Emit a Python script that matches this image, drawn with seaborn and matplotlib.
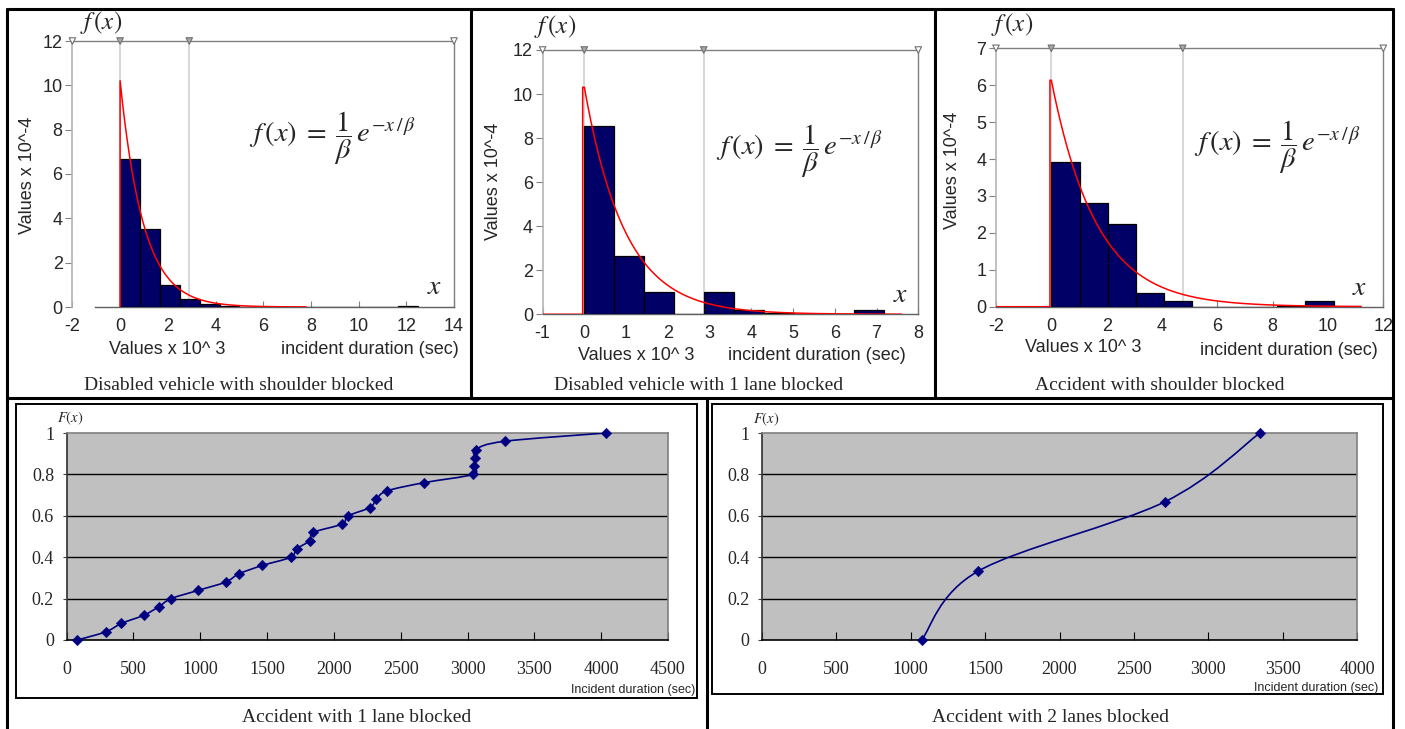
import numpy as np
import matplotlib
matplotlib.use('Agg')
import matplotlib.pyplot as plt
import seaborn as sns
from matplotlib.path import Path
from matplotlib.patches import PathPatch, Rectangle
from matplotlib.lines import Line2D

W, H = 1405, 729

# ---- top row: histograms (values x 10^3 sec, density x 10^-4) ----
p1_title = 'Disabled vehicle with shoulder blocked'
p1_edges = [0, 0.83, 1.67, 2.5, 3.33, 4.17, 5.0, 5.83, 6.67, 7.5, 8.33, 9.17, 10.0, 10.83, 11.67, 12.5]
p1_heights = [6.66, 3.52, 1.0, 0.38, 0.12, 0.05, 0.02, 0, 0, 0, 0, 0, 0, 0, 0.05]
p1_beta = 0.98
p1_marks = [-2, 0, 2.9, 14]
p1_xticks = [-2, 0, 2, 4, 6, 8, 10, 12, 14]
p1_yticks = [0, 2, 4, 6, 8, 10, 12]

p2_title = 'Disabled vehicle with 1 lane blocked'
p2_edges = [0, 0.72, 1.43, 2.15, 2.87, 3.58, 4.3, 5.02, 5.73, 6.45, 7.17]
p2_heights = [8.54, 2.64, 1.03, 0, 1.0, 0.2, 0.05, 0.03, 0, 0.2]
p2_beta = 0.97
p2_marks = [-1, 0, 2.86, 8]
p2_xticks = [-1, 0, 1, 2, 3, 4, 5, 6, 7, 8]
p2_yticks = [0, 2, 4, 6, 8, 10, 12]

p3_title = 'Accident with shoulder blocked'
p3_edges = [0, 1.02, 2.04, 3.06, 4.08, 5.1, 6.12, 7.14, 8.16, 9.18, 10.2]
p3_heights = [3.93, 2.8, 2.23, 0.36, 0.16, 0, 0, 0, 0.02, 0.16]
p3_beta = 1.63
p3_marks = [-2, 0, 4.75, 12]
p3_xticks = [-2, 0, 2, 4, 6, 8, 10, 12]
p3_yticks = [0, 1, 2, 3, 4, 5, 6, 7]

# ---- bottom row: empirical CDFs ----
p4_title = 'Accident with 1 lane blocked'
p4_x = [81, 295, 410, 579, 688, 783, 986, 1190, 1291, 1464, 1677, 1721, 1820, 1847,
        2060, 2108, 2270, 2318, 2396, 2674, 3040, 3046, 3057, 3060, 3277, 4036]
p4_F = [0, 0.04, 0.08, 0.12, 0.16, 0.2, 0.24, 0.28, 0.32, 0.36, 0.4, 0.44, 0.48, 0.52,
        0.56, 0.6, 0.64, 0.68, 0.72, 0.76, 0.8, 0.84, 0.88, 0.92, 0.96, 1.0]

p5_title = 'Accident with 2 lanes blocked'
p5_x = [1073, 1454, 2706, 3347]
p5_F = [0, 0.333, 0.667, 1.0]

sns.set_style('white')
plt.rcParams['font.family'] = ['Liberation Sans', 'DejaVu Sans']
plt.rcParams['mathtext.fontset'] = 'stix'

fig = plt.figure(figsize=(W / 100, H / 100), dpi=100)


def rect_px(x0, y0, x1, y1):
    return [x0 / W, 1 - y1 / H, (x1 - x0) / W, (y1 - y0) / H]


def ftext(x, y, s, **kw):
    fig.text(x / W, 1 - y / H, s, **kw)


def fline(xs, ys, **kw):
    fig.add_artist(Line2D([x / W for x in xs], [1 - y / H for y in ys],
                          transform=fig.transFigure, **kw))


def hist_panel(box, xlim, ylim, xticks, yticks, edges, heights, beta, marks,
               x0, x1, base_from, axis_from):
    ax = fig.add_axes(rect_px(*box))
    centers = [(a + b) / 2 for a, b in zip(edges[:-1], edges[1:])]
    sns.histplot(x=centers, weights=heights, bins=edges, ax=ax, color='#000066',
                 edgecolor='black', linewidth=0.9, alpha=1, zorder=3)
    # fitted exponential f(x) = 1/beta e^(-x/beta)
    xs = np.linspace(max(x0, 0), x1, 400)
    ys = 10 / beta * np.exp(-np.maximum(xs, 0) / beta)
    cx = np.concatenate([[base_from, x0, x0], xs])
    cy = np.concatenate([[0, 0, 10 / beta], ys])
    ax.plot(cx, cy, color='red', lw=1.1, zorder=4)
    ax.vlines([marks[1], marks[2]], 0, ylim[1], color='#d4d4d4', lw=1.3, zorder=1)
    ax.scatter(marks, [ylim[1]] * 4, marker='v', s=22,
               facecolor=['white', '#a8a8a8', '#a8a8a8', 'white'],
               edgecolor='#707070', linewidth=0.8, clip_on=False, zorder=6)
    ax.set_xlim(*xlim)
    ax.set_ylim(*ylim)
    ax.set_xticks(xticks)
    ax.set_yticks(yticks)
    ax.set_xticklabels([str(t) for t in xticks])
    ax.set_yticklabels([str(t) for t in yticks])
    ax.set_xlabel('')
    ax.set_ylabel('')
    for s in ['top', 'right']:
        ax.spines[s].set_color('#808080')
        ax.spines[s].set_linewidth(1.0)
    ax.spines['left'].set_color('#b4b4b4')
    ax.spines['left'].set_linewidth(1.2)
    ax.spines['bottom'].set_color('#606060')
    ax.spines['bottom'].set_linewidth(1.0)
    ax.spines['bottom'].set_bounds(axis_from, xlim[1])
    ax.tick_params(axis='x', direction='in', length=4, color='#808080', pad=8,
                   labelsize=13, bottom=True)
    ax.tick_params(axis='y', direction='out', length=5, color='#808080', pad=2,
                   labelsize=13, left=True)
    ax.patch.set_alpha(0)
    return ax


hist_panel((72.4, 41, 454, 307), (-2, 14), (0, 12), p1_xticks, p1_yticks,
           p1_edges, p1_heights, p1_beta, p1_marks, 0.0, 7.8, 0.0, -1.05)
hist_panel((542.6, 50, 918.3, 314.3), (-1, 8), (0, 12), p2_xticks, p2_yticks,
           p2_edges, p2_heights, p2_beta, p2_marks, -0.04, 7.6, -1.0, -1.0)
hist_panel((996, 48.3, 1383.3, 306.7), (-2, 12), (0, 7), p3_xticks, p3_yticks,
           p3_edges, p3_heights, p3_beta, p3_marks, -0.05, 11.2, -2.0, -2.0)

formula = r'$f\,(x)\;=\;\dfrac{1}{\beta}\,e^{-x\,/\,\beta}$'
top_text = [
    # f(x) pos, formula pos, x pos, ylabel pos, xlabel1, xlabel2, caption, title
    ((101, 23), (249, 138), (435, 287), (28, 175), (167, 350), (370, 350), (239, 385), p1_title),
    ((555, 27), (716, 151), (901, 295), (493, 181), (636, 355), (817, 355), (699, 385), p2_title),
    ((1012, 24), (1194, 147), (1360, 288), (953, 170), (1083, 347), (1289, 351), (1160, 385), p3_title),
]
for fxp, frp, xp, ylp, xl1, xl2, cap, title in top_text:
    ftext(*fxp, r'$f\,(x)$', fontsize=18, ha='center', va='center')
    ftext(*frp, formula, fontsize=20.5, ha='left', va='center')
    ftext(*xp, r'$x$', fontsize=20, ha='center', va='center')
    ftext(*ylp, 'Values x 10^-4', fontsize=13, rotation=90, ha='center', va='center')
    ftext(*xl1, 'Values x 10^ 3', fontsize=13, ha='center', va='center')
    ftext(*xl2, 'incident duration (sec)', fontsize=13, ha='center', va='center')
    ftext(*cap, title, fontsize=14, ha='center', va='center', family='Liberation Serif')


def smooth_path(xs, ys):
    pts = np.column_stack([xs, ys]).astype(float)
    n = len(pts)
    verts = [pts[0]]
    codes = [Path.MOVETO]
    for i in range(n - 1):
        p0 = pts[i - 1] if i > 0 else pts[i]
        p1 = pts[i]
        p2 = pts[i + 1]
        p3 = pts[i + 2] if i + 2 < n else p2
        verts += [p1 + (p2 - p0) / 6, p2 - (p3 - p1) / 6, p2]
        codes += [Path.CURVE4] * 3
    return Path(verts, codes)


def cdf_panel(box, border, xmax, xs, Fs, fx_pos, lab_pos, cap_pos, title):
    ax = fig.add_axes(rect_px(*box))
    ax.set_facecolor('#c0c0c0')
    ax.hlines([0.2, 0.4, 0.6, 0.8], 0, xmax, color='black', lw=1.0, zorder=1)
    ax.add_patch(PathPatch(smooth_path(xs, Fs), fill=False, edgecolor='#000080',
                           lw=1.2, zorder=3))
    sns.scatterplot(x=xs, y=Fs, marker='D', s=28, color='#000080',
                    edgecolor='#000080', ax=ax, zorder=4, clip_on=False)
    ax.set_xlim(0, xmax)
    ax.set_ylim(0, 1)
    xt = list(range(0, xmax + 1, 500))
    ax.set_xticks(xt)
    ax.set_xticklabels([str(t) for t in xt], family='Liberation Serif', fontsize=13)
    yt = [0, 0.2, 0.4, 0.6, 0.8, 1]
    ax.set_yticks(yt)
    ax.set_yticklabels(['0', '0.2', '0.4', '0.6', '0.8', '1'],
                       family='Liberation Serif', fontsize=13)
    ax.set_xlabel('')
    ax.set_ylabel('')
    ax.tick_params(axis='x', direction='in', length=6, color='black', pad=15, bottom=True)
    ax.tick_params(axis='y', direction='out', length=3, color='#404040', pad=6, left=True)
    ax.spines['top'].set_color('#808080')
    ax.spines['right'].set_color('#808080')
    ax.spines['left'].set_color('#303030')
    ax.spines['bottom'].set_color('black')
    for s in ax.spines.values():
        s.set_linewidth(1.2)
    bx0, by0, bx1, by1 = border
    fig.add_artist(Rectangle((bx0 / W, 1 - by1 / H), (bx1 - bx0) / W, (by1 - by0) / H,
                             transform=fig.transFigure, fill=False,
                             edgecolor='black', lw=1.4))
    ftext(*fx_pos, r'$F(x)$', fontsize=10.5, ha='center', va='center')
    ftext(*lab_pos, 'Incident duration (sec)', fontsize=9, ha='right', va='center')
    ftext(*cap_pos, title, fontsize=14, ha='center', va='center', family='Liberation Serif')


cdf_panel((66.6, 433, 668, 640), (16, 404, 697, 698), 4500, p4_x, p4_F,
          (70, 418), (695, 690), (357, 718), p4_title)
cdf_panel((762, 433, 1357, 640), (712, 404, 1383, 694), 4000, p5_x, p5_F,
          (766, 419), (1378, 688), (1050, 718), p5_title)

# outer frame of the figure grid
lw = 2.2
fline([7, 7], [9, 729], color='black', lw=lw)
fline([1393, 1393], [9, 729], color='black', lw=lw)
fline([7, 1393], [9, 9], color='black', lw=lw)
fline([7, 1393], [398, 398], color='black', lw=lw)
fline([471, 471], [9, 398], color='black', lw=lw)
fline([935, 935], [9, 398], color='black', lw=lw)
fline([707, 707], [398, 729], color='black', lw=lw)

fig.savefig('out.png', dpi=100)
